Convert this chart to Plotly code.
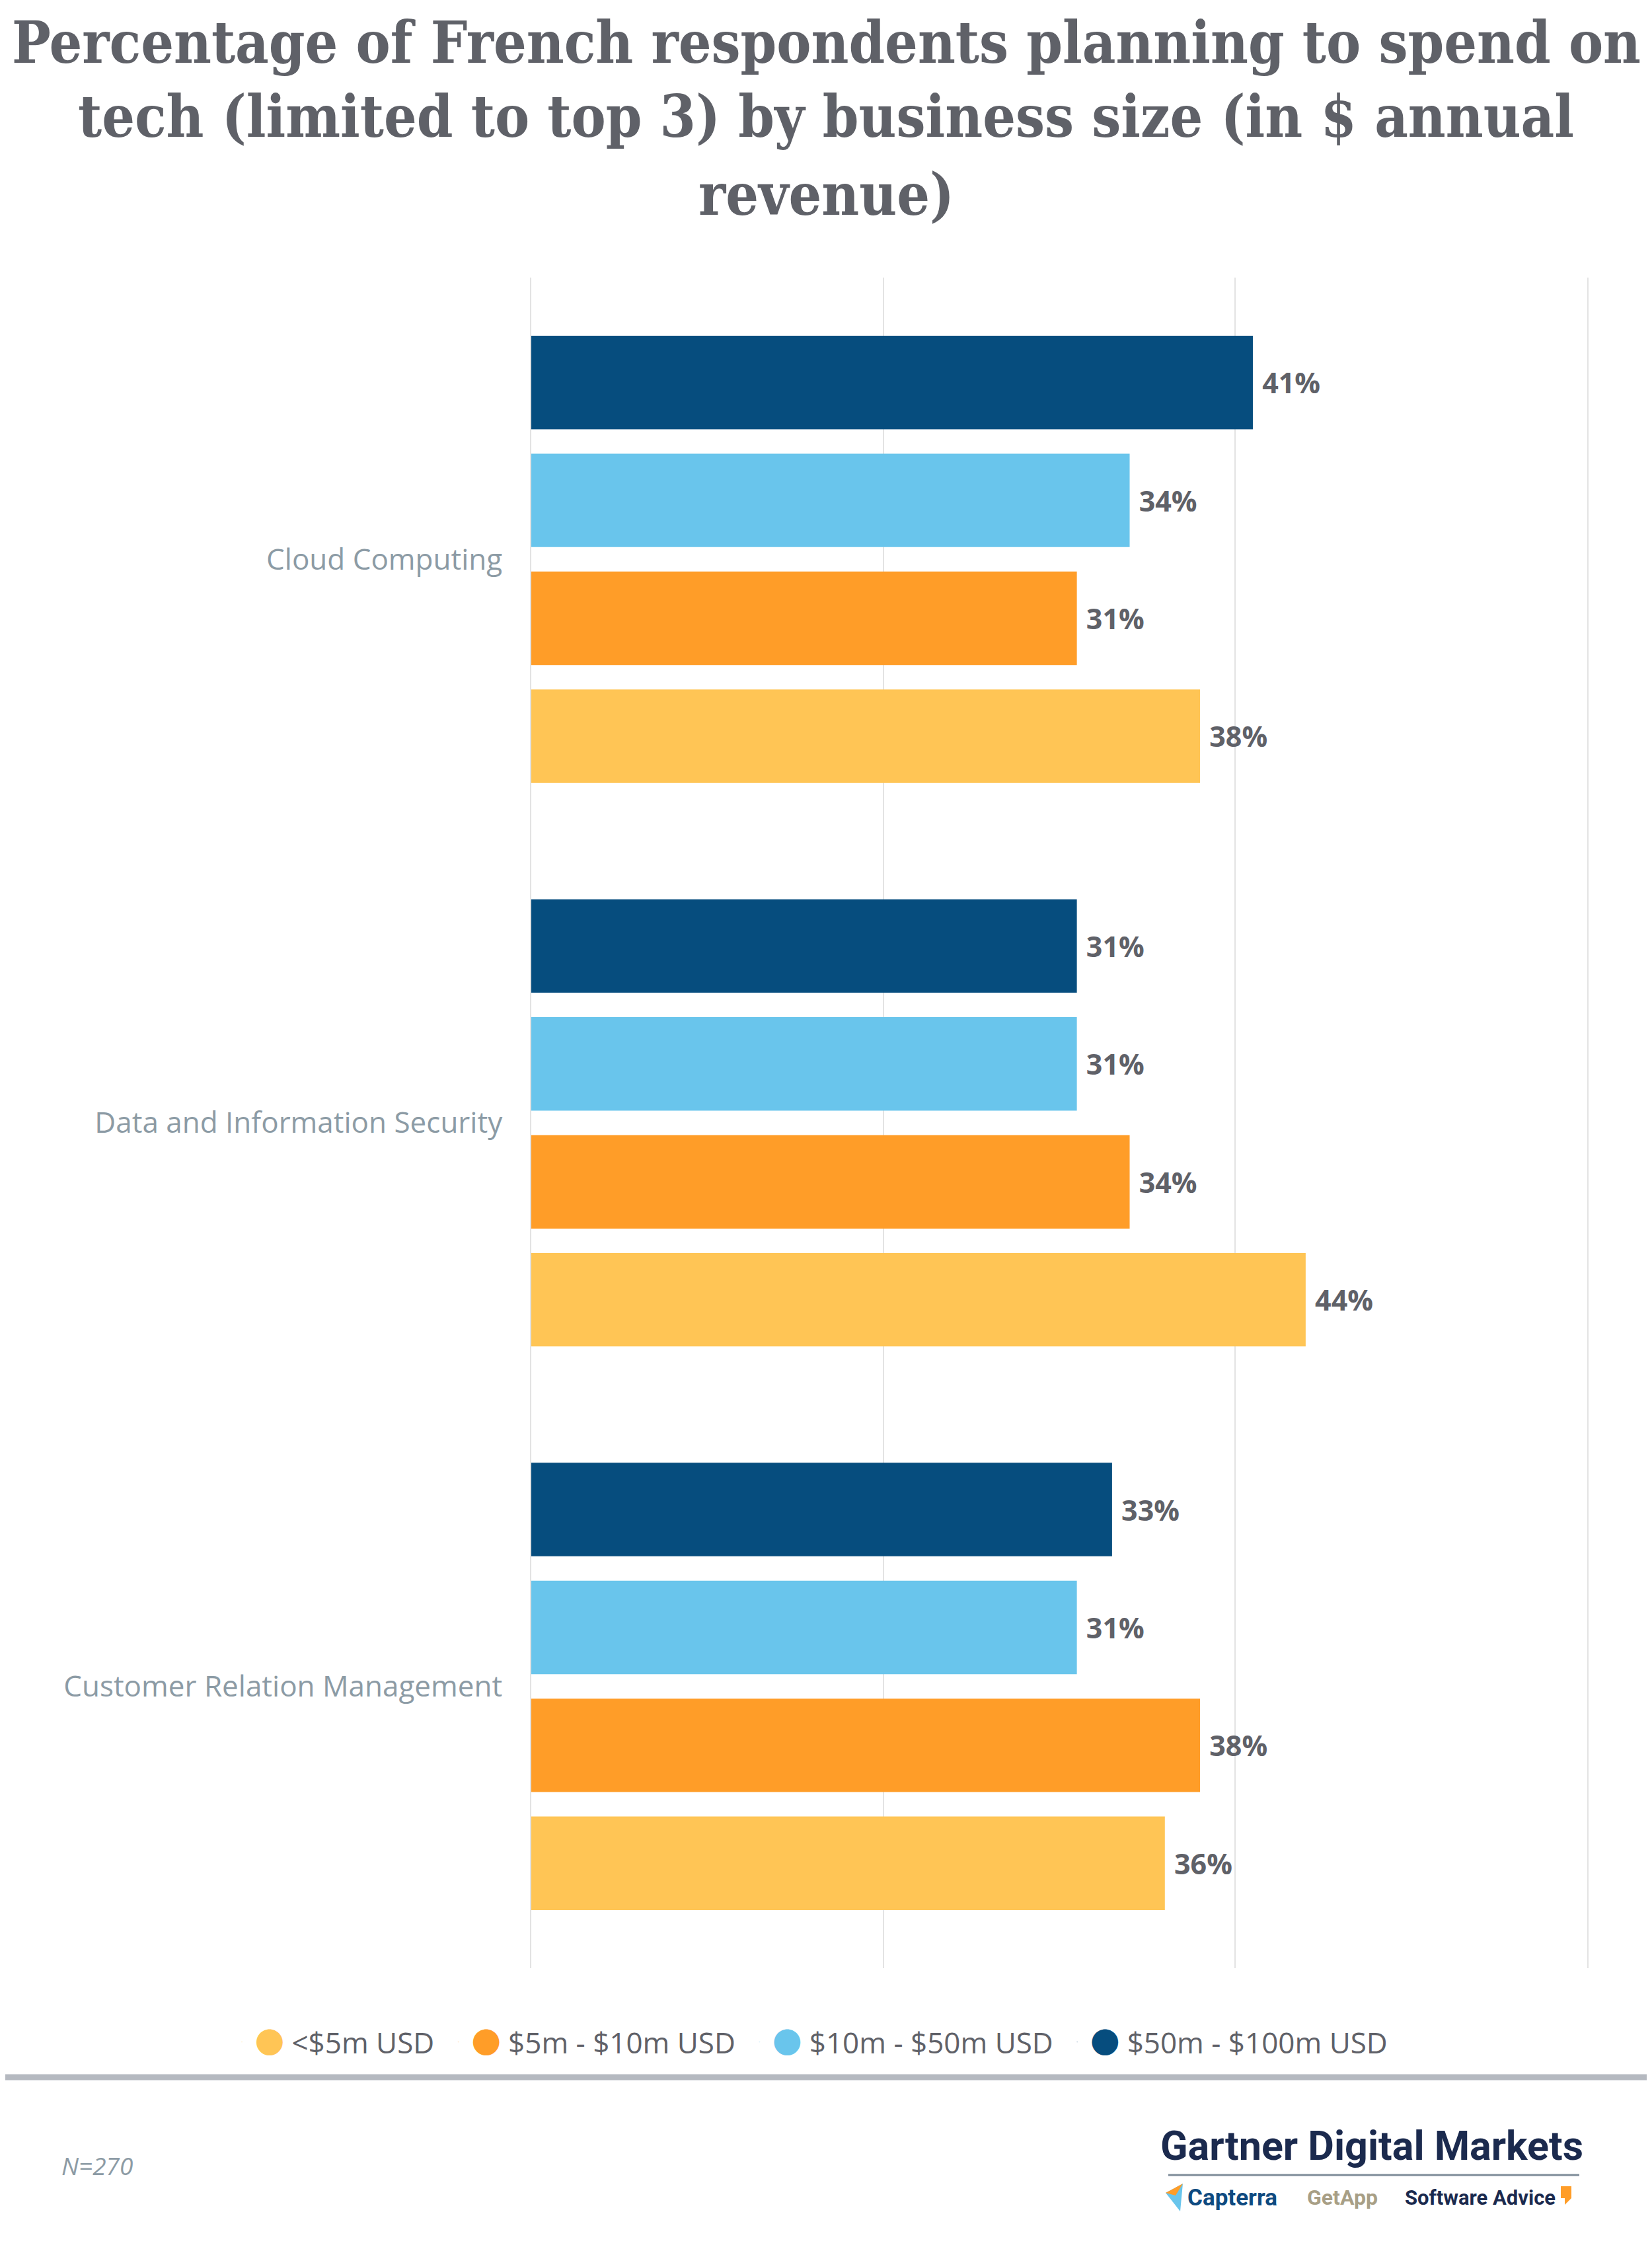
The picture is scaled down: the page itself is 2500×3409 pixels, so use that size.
import plotly.graph_objects as go

# ---------------- data ----------------
categories = ["Cloud Computing", "Data and Information Security", "Customer Relation Management"]
series_names = ["<$5m USD", "$5m - $10m USD", "$10m - $50m USD", "$50m - $100m USD"]
vals_lt5 = [38, 44, 36]
vals_5_10 = [31, 34, 38]
vals_10_50 = [34, 31, 31]
vals_50_100 = [41, 31, 33]
series_values = [vals_lt5, vals_5_10, vals_10_50, vals_50_100]
series_colors = ["#FFC555", "#FF9D28", "#69C5EC", "#064D7E"]
x_ticks = [0, 20, 40, 60]
title_lines = [
    "Percentage of French respondents planning to spend on",
    "tech (limited to top 3) by business size (in $ annual",
    "revenue)",
]

# page geometry (browser body has an 8px margin)
PAGE_W, PAGE_H, OFF = 2500, 3409, 8
W, H = PAGE_W - 2 * OFF, PAGE_H - 2 * OFF
PLOT_L, PLOT_R, PLOT_T, PLOT_B = 804, 2402, 420, 2978  # page pixels
ML, MR = PLOT_L - OFF, W - (PLOT_R - OFF)
MT, MB = PLOT_T - OFF, H - (PLOT_B - OFF)
PW, PH = W - ML - MR, H - MT - MB


def px_x(px):
    return (px - OFF - ML) / PW


def px_y(py):
    return (H - MB - (py - OFF)) / PH


fig = go.Figure()
for name, vals, col in zip(series_names, series_values, series_colors):
    fig.add_trace(go.Bar(
        y=categories, x=vals, orientation="h", name=name,
        marker=dict(color=col, line=dict(width=0)),
        text=[f"\u00a0{v}%" for v in vals], textposition="outside",
        textfont=dict(family="Open Sans", size=43, color="#5F6168", weight="bold"),
        cliponaxis=False, showlegend=False,
    ))
    # legend entry with a round marker
    fig.add_trace(go.Scatter(
        x=[None], y=[None], mode="markers",
        name=f'<span style="color:{col}">\u25cf</span>\u00a0{name}\u00a0',
        marker=dict(color=col, size=1, opacity=0),
        showlegend=True,
    ))

for i, line in enumerate(title_lines):
    yc = [64, 177, 294][i]
    fig.add_annotation(
        text=f"<b>{line}</b>", xref="paper", yref="paper",
        x=px_x(PAGE_W / 2), y=px_y(yc), xanchor="center", yanchor="middle",
        showarrow=False,
        font=dict(family="Roboto Slab, DejaVu Serif Condensed, DejaVu Serif, serif", size=87, color="#5F6168"),
    )

fig.update_layout(
    width=W, height=H,
    paper_bgcolor="white", plot_bgcolor="white",
    margin=dict(l=ML, r=MR, t=MT, b=MB, autoexpand=False),
    barmode="group", bargap=0.163, bargroupgap=0.207,
    xaxis=dict(
        range=[0, 60], tickvals=x_ticks, showticklabels=False,
        showgrid=True, gridcolor="#E3E3E3", gridwidth=2,
        zeroline=False, showline=False, fixedrange=True,
    ),
    yaxis=dict(
        categoryorder="array", categoryarray=categories[::-1],
        showgrid=False, zeroline=False,
        showline=True, mirror=True, linecolor="#E3E3E3", linewidth=2,
        tickfont=dict(family="Open Sans", size=44, color="#8C9BA5"),
        ticks="", ticklabelstandoff=33,
    ),
    legend=dict(
        orientation="h", xref="paper", x=px_x(346), xanchor="left",
        y=px_y(3090), yanchor="middle",
        font=dict(family="Open Sans, Noto Sans CJK JP", size=44, color="#5F6168"),
        itemwidth=30, tracegroupgap=0, bgcolor="rgba(0,0,0,0)",
    ),
    showlegend=True,
)

# footer separator
fig.add_shape(type="line", xref="paper", yref="paper",
              x0=px_x(0), x1=px_x(PAGE_W), y0=px_y(3143), y1=px_y(3143),
              line=dict(color="#B5B9C0", width=9))
# logo separator
fig.add_shape(type="line", xref="paper", yref="paper",
              x0=px_x(1768), x1=px_x(2390), y0=px_y(3291), y1=px_y(3291),
              line=dict(color="#7E8C99", width=3))

fig.add_annotation(text="N=270", xref="paper", yref="paper",
                   x=px_x(91), y=px_y(3276), xanchor="left", yanchor="middle",
                   showarrow=False,
                   font=dict(family="Open Sans", size=37, color="#8C9BA5", style="italic"))
fig.add_annotation(text="<b>Gartner Digital Markets</b>", xref="paper", yref="paper",
                   x=px_x(2398), y=px_y(3247), xanchor="right", yanchor="middle",
                   showarrow=False,
                   font=dict(family="Roboto", size=61, color="#1B2A4E"))
fig.add_annotation(text="<b>Capterra</b>", xref="paper", yref="paper",
                   x=px_x(1795), y=px_y(3325), xanchor="left", yanchor="middle",
                   showarrow=False,
                   font=dict(family="Roboto", size=35, color="#0E4A80"))
fig.add_annotation(text="<b>GetApp</b>", xref="paper", yref="paper",
                   x=px_x(1976), y=px_y(3325), xanchor="left", yanchor="middle",
                   showarrow=False,
                   font=dict(family="Roboto", size=32, color="#A89F86"))
fig.add_annotation(text="<b>Software Advice</b>", xref="paper", yref="paper",
                   x=px_x(2124), y=px_y(3325), xanchor="left", yanchor="middle",
                   showarrow=False,
                   font=dict(family="Roboto", size=31, color="#1B2A4E"))
# small logo marks
fig.add_shape(type="path", xref="paper", yref="paper",
              path=f"M {px_x(1764)},{px_y(3318)} L {px_x(1790)},{px_y(3304)} L {px_x(1786)},{px_y(3346)} Z",
              fillcolor="#69C5EC", line=dict(width=0))
fig.add_shape(type="path", xref="paper", yref="paper",
              path=f"M {px_x(1764)},{px_y(3318)} L {px_x(1790)},{px_y(3304)} L {px_x(1779)},{px_y(3322)} Z",
              fillcolor="#FF9D28", line=dict(width=0))
fig.add_shape(type="path", xref="paper", yref="paper",
              path=f"M {px_x(2362)},{px_y(3308)} L {px_x(2378)},{px_y(3308)} L {px_x(2378)},{px_y(3326)} L {px_x(2368)},{px_y(3336)} L {px_x(2368)},{px_y(3326)} L {px_x(2362)},{px_y(3326)} Z",
              fillcolor="#FF9D28", line=dict(width=0))

fig.write_html("out.html")
